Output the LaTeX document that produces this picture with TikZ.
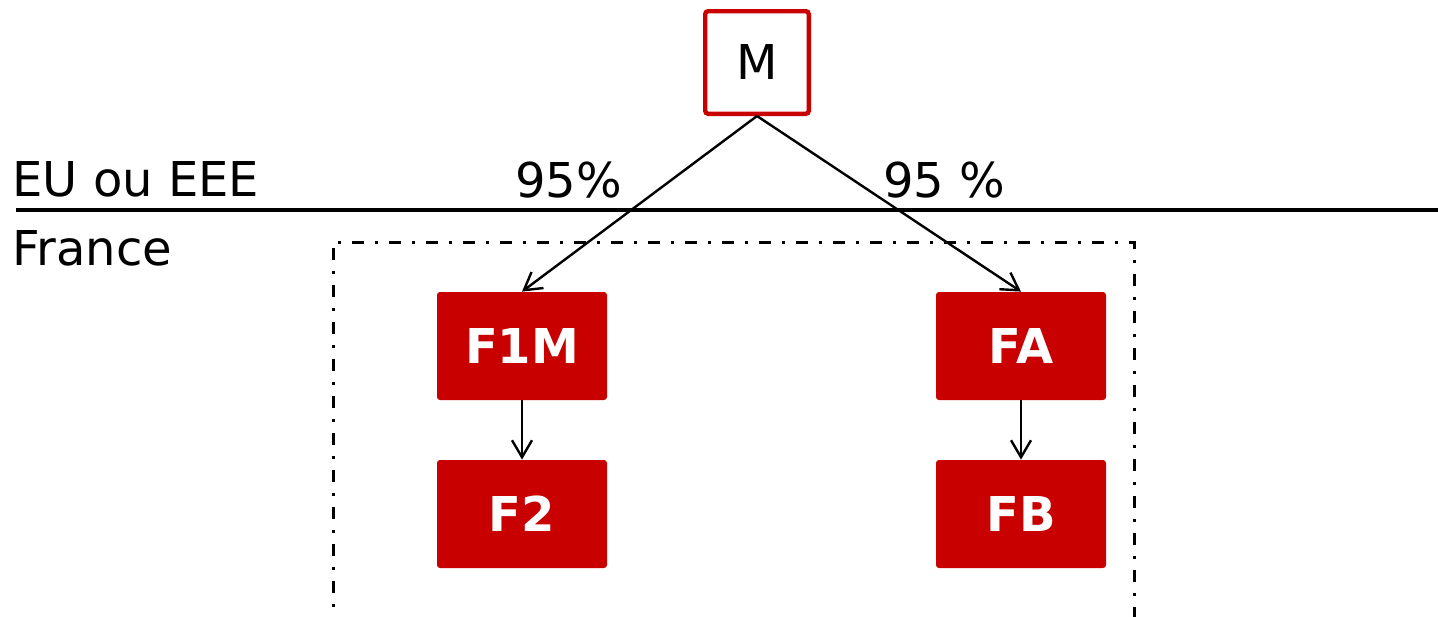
\documentclass[tikz,border=0pt]{standalone}
\usepackage{fontspec}
\setmainfont{DejaVu Sans}
\usetikzlibrary{arrows.meta}
\definecolor{boxred}{RGB}{200,0,0}
\begin{document}
\begin{tikzpicture}[x=0.5pt,y=-0.5pt,
  lbl/.style={inner sep=0pt, anchor=base west, font=\fontsize{24}{28}\selectfont},
  redbox/.style={fill=boxred, draw=none, rounded corners=1.5pt, minimum width=85pt, minimum height=54pt, inner sep=0pt, text=white, font=\fontsize{24}{28}\selectfont\bfseries},
  mbox/.style={draw=boxred, line width=2.2pt, fill=white, rounded corners=1.5pt, minimum width=51.8pt, minimum height=51.3pt, inner sep=0pt, font=\fontsize{24}{28}\selectfont},
  arr/.style={draw, line width=1.2pt, -{Straight Barb[length=8.5pt,width=10pt]}},
  border/.style={line width=2pt},
  zone/.style={line width=1.5pt, dash pattern=on 6pt off 5.5pt on 1.5pt off 5.5pt}]
\useasboundingbox (0,0) rectangle (1438,616);
% border line between zones
\coordinate (bl) at (16,210);
\coordinate (br) at (1438,210);
\draw[border] (bl) -- (br);
% zone labels
\node[lbl] (eu) at (12,196) {EU ou EEE};
\node[lbl] (fr) at (12,265) {France};
% dash-dot perimeter
\coordinate (z1) at (333,630);
\coordinate (z2) at (333,242);
\coordinate (z3) at (1134,242);
\coordinate (z4) at (1134,630);
\draw[zone] (z1) -- (z2) -- (z3) -- (z4);
% nodes
\node[mbox] (M) at (757,62.5) {M};
\node[redbox] (F1M) at (522,346) {F1M};
\node[redbox] (F2) at (522,514) {F2};
\node[redbox] (FA) at (1021,346) {FA};
\node[redbox] (FB) at (1021,514) {FB};
% connectors
\draw[arr] (M.south) -- (F1M.north);
\draw[arr] (M.south) -- (FA.north);
\draw[arr] (F1M.south) -- (F2.north);
\draw[arr] (FA.south) -- (FB.north);
% percentages
\node[lbl] (p1) at (515,197) {95\%};
\node[lbl] (p2) at (883,197) {95 \%};
\end{tikzpicture}
\end{document}
